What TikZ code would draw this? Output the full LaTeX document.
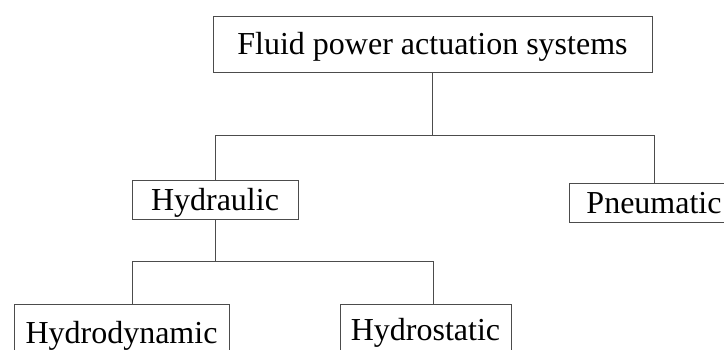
\documentclass[tikz,border=0pt]{standalone}
\usepackage{fontspec}
\setmainfont{Liberation Serif}
\tikzset{
  blk/.style={draw=black!70, line width=1pt, inner sep=0pt, text height=21pt, text depth=0pt,
    font=\fontsize{32}{38}\selectfont},
  link/.style={draw=black!70, line width=1pt},
}

\begin{document}
\begin{tikzpicture}[x=1pt, y=-1pt]
        \useasboundingbox (0,0) rectangle (724,349);
        \clip (0,0) rectangle (724,349);

        \node[blk, minimum width=439pt, minimum height=56pt] (fluid)     at (432.5,44)  {Fluid power actuation systems};
        \node[blk, minimum width=166pt, minimum height=39pt] (hydraulic) at (215,199.5) {Hydraulic};
        \node[blk, minimum width=170pt, minimum height=39pt] (pneumatic) at (654,202.5) {Pneumatic};
        \node[blk, minimum width=215pt, minimum height=57pt] (hydrodyn)  at (121.5,332.5) {Hydrodynamic};
        \node[blk, minimum width=171pt, minimum height=52pt] (hydrostat) at (425.5,330) {Hydrostatic};

        % branches
        \draw[link] (fluid.south) -- ++(0,63) coordinate (topsplit);
        \draw[link] (topsplit) -| (hydraulic.north);
        \draw[link] (topsplit) -| (pneumatic.north);
        \draw[link] (hydraulic.south) -- ++(0,42) coordinate (lowsplit);
        \draw[link] (lowsplit) -| ([xshift=10.5pt]hydrodyn.north);
        \draw[link] (lowsplit) -| ([xshift=7.5pt]hydrostat.north);
      \end{tikzpicture}
\end{document}
